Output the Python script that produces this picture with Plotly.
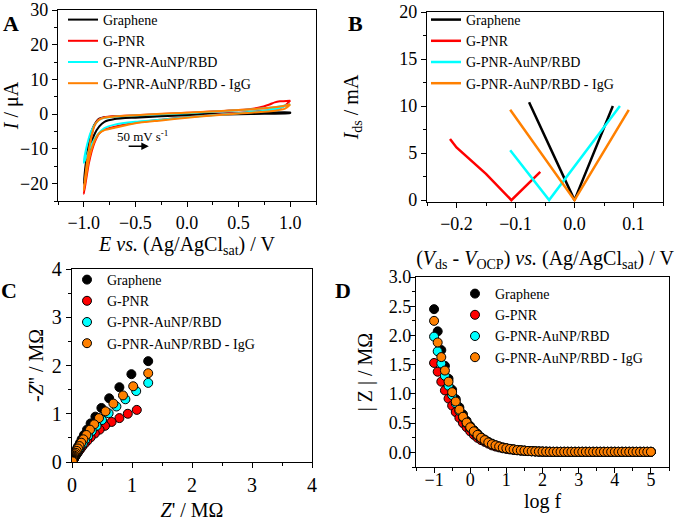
import plotly.graph_objects as go

# ---- data -------------------------------------------------------------
series = ["Graphene", "G-PNR", "G-PNR-AuNP/RBD", "G-PNR-AuNP/RBD - IgG"]
colors = ["#000000", "#FF0000", "#00FFFF", "#FF8000"]

# A: cyclic voltammetry (closed loop: -1 -> 1 -> -1)
cv_e = {
    "Graphene": [-1.0, -0.98, -0.95, -0.92, -0.88, -0.85, -0.8, -0.7, -0.5, -0.25, 0.0, 0.25, 0.5, 0.75, 1.0,
                 1.0, 0.75, 0.5, 0.25, 0.0, -0.25, -0.5, -0.7, -0.8, -0.85, -0.9, -0.95, -1.0],
    "G-PNR": [-1.0, -0.97, -0.93, -0.9, -0.86, -0.8, -0.7, -0.5, 0.0, 0.5, 0.7, 0.8, 0.85, 0.9, 1.0,
              1.0, 0.95, 0.9, 0.8, 0.7, 0.5, 0.25, 0.0, -0.25, -0.5, -0.7, -0.8, -0.85, -0.9, -0.95, -1.0],
    "G-PNR-AuNP/RBD": [-1.0, -0.97, -0.93, -0.88, -0.83, -0.75, -0.5, 0.0, 0.5, 0.75, 0.9, 1.0,
                       1.0, 0.9, 0.75, 0.5, 0.25, 0.0, -0.25, -0.5, -0.7, -0.8, -0.87, -0.93, -0.97, -1.0],
    "G-PNR-AuNP/RBD - IgG": [-1.0, -0.97, -0.93, -0.9, -0.86, -0.8, -0.7, -0.5, -0.25, 0.0, 0.25, 0.5, 0.75, 0.9, 1.0,
                             1.0, 0.95, 0.85, 0.75, 0.5, 0.25, 0.0, -0.25, -0.5, -0.7, -0.8, -0.85, -0.9, -0.95, -1.0],
}
cv_i = {
    "Graphene": [-20, -14, -8, -4.5, -2.2, -1.3, -0.9, -0.7, -0.5, -0.2, 0.0, 0.15, 0.3, 0.4, 0.5,
                 0.3, 0.1, 0.0, -0.15, -0.3, -0.6, -1.0, -1.4, -2.2, -3.5, -6, -11, -20],
    "G-PNR": [-23, -15, -7, -3.5, -1.6, -0.9, -0.6, -0.3, 0.4, 1.2, 1.9, 2.8, 3.4, 3.7, 3.9,
              3.9, 2.5, 1.8, 1.2, 0.9, 0.4, -0.2, -0.8, -1.6, -2.5, -3.6, -4.4, -5.5, -8.5, -14, -23],
    "G-PNR-AuNP/RBD": [-14, -9, -5, -2.5, -1.3, -0.9, -0.4, 0.3, 1.1, 1.7, 2.2, 2.9,
                       2.9, 1.8, 1.0, 0.3, -0.3, -0.9, -1.6, -2.2, -3.0, -4.0, -6, -9, -12, -14],
    "G-PNR-AuNP/RBD - IgG": [-22, -14, -7, -3.5, -1.8, -1.0, -0.7, -0.3, 0.1, 0.4, 0.8, 1.2, 1.7, 2.2, 2.8,
                             2.8, 1.6, 1.0, 0.7, 0.2, -0.4, -1.0, -1.8, -2.6, -3.9, -4.6, -5.5, -8, -13, -22],
}

# B: transfer curves
fet_v = {
    "Graphene": [-0.077, 0.0, 0.065],
    "G-PNR": [-0.211, -0.2, -0.15, -0.107, -0.058],
    "G-PNR-AuNP/RBD": [-0.109, -0.043, 0.077],
    "G-PNR-AuNP/RBD - IgG": [-0.109, 0.0, 0.092],
}
fet_i = {
    "Graphene": [10.4, 0.0, 10.0],
    "G-PNR": [6.5, 5.6, 2.8, 0.0, 3.0],
    "G-PNR-AuNP/RBD": [5.3, 0.0, 10.0],
    "G-PNR-AuNP/RBD - IgG": [9.6, 0.0, 9.6],
}

# C: Nyquist
z_re = {
    "Graphene": [1.27, 0.99, 0.79, 0.62, 0.49, 0.39, 0.31, 0.25, 0.20, 0.16, 0.13, 0.10, 0.08, 0.065,
                 0.05, 0.04, 0.035, 0.03, 0.025, 0.02, 0.018, 0.015, 0.013, 0.012, 0.011, 0.01],
    "G-PNR": [1.08, 0.93, 0.79, 0.66, 0.55, 0.46, 0.38, 0.31, 0.255, 0.21, 0.17, 0.14, 0.115, 0.095,
              0.075, 0.06, 0.05, 0.04, 0.032, 0.026, 0.02, 0.016, 0.013, 0.011, 0.01],
    "G-PNR-AuNP/RBD": [1.27, 1.07, 0.89, 0.74, 0.61, 0.50, 0.41, 0.33, 0.27, 0.22, 0.18, 0.14, 0.115,
                       0.09, 0.075, 0.06, 0.05, 0.04, 0.033, 0.027, 0.022, 0.018, 0.014, 0.012, 0.01],
    "G-PNR-AuNP/RBD - IgG": [1.27, 1.02, 0.85, 0.69, 0.56, 0.45, 0.37, 0.30, 0.24, 0.19, 0.155, 0.125,
                             0.10, 0.08, 0.065, 0.05, 0.04, 0.035, 0.03, 0.025, 0.02, 0.018, 0.015,
                             0.013, 0.012, 0.01],
}
z_im = {
    "Graphene": [2.09, 1.82, 1.55, 1.32, 1.12, 0.94, 0.80, 0.67, 0.56, 0.47, 0.39, 0.32, 0.27, 0.22,
                 0.18, 0.15, 0.12, 0.10, 0.08, 0.065, 0.05, 0.04, 0.03, 0.02, 0.015, 0.01],
    "G-PNR": [1.08, 1.00, 0.91, 0.83, 0.75, 0.67, 0.59, 0.51, 0.44, 0.38, 0.32, 0.27, 0.23, 0.19,
              0.16, 0.13, 0.11, 0.09, 0.07, 0.055, 0.045, 0.035, 0.025, 0.018, 0.012],
    "G-PNR-AuNP/RBD": [1.64, 1.47, 1.30, 1.15, 1.01, 0.87, 0.75, 0.64, 0.54, 0.46, 0.38, 0.32, 0.27,
                       0.22, 0.18, 0.15, 0.12, 0.10, 0.08, 0.065, 0.05, 0.04, 0.03, 0.02, 0.012],
    "G-PNR-AuNP/RBD - IgG": [1.84, 1.57, 1.38, 1.21, 1.05, 0.91, 0.78, 0.67, 0.56, 0.47, 0.40, 0.33,
                             0.28, 0.23, 0.19, 0.16, 0.13, 0.11, 0.09, 0.07, 0.06, 0.045, 0.035,
                             0.025, 0.018, 0.012],
}

# D: Bode modulus
log_f = [-1.0, -0.9, -0.8, -0.7, -0.6, -0.5, -0.4, -0.3, -0.2, -0.1, 0.0, 0.1, 0.2, 0.3, 0.4, 0.5,
         0.6, 0.7, 0.8, 0.9, 1.0, 1.1, 1.2, 1.3, 1.4, 1.5, 1.6, 1.7, 1.8, 1.9, 2.0, 2.1, 2.2, 2.3,
         2.4, 2.5, 2.6, 2.7, 2.8, 2.9, 3.0, 3.1, 3.2, 3.3, 3.4, 3.5, 3.6, 3.7, 3.8, 3.9, 4.0, 4.1,
         4.2, 4.3, 4.4, 4.5, 4.6, 4.7, 4.8, 4.9, 5.0]
z_mod = {
    "Graphene": [2.45, 2.07, 1.75, 1.48, 1.26, 1.07, 0.91, 0.77, 0.65, 0.54, 0.45, 0.38, 0.32, 0.26,
                 0.22, 0.18, 0.15, 0.12, 0.10, 0.085, 0.07, 0.06, 0.05, 0.042, 0.035, 0.03, 0.025,
                 0.021, 0.018, 0.015, 0.013, 0.012, 0.011, 0.01, 0.01, 0.01, 0.01, 0.01, 0.01, 0.01,
                 0.01, 0.01, 0.01, 0.01, 0.01, 0.01, 0.01, 0.01, 0.01, 0.01, 0.01, 0.01, 0.01, 0.01,
                 0.01, 0.01, 0.01, 0.01, 0.01, 0.01, 0.01],
    "G-PNR": [1.53, 1.38, 1.21, 1.06, 0.92, 0.80, 0.69, 0.59, 0.50, 0.43, 0.36, 0.30, 0.25, 0.21,
              0.18, 0.15, 0.12, 0.10, 0.085, 0.07, 0.06, 0.05, 0.042, 0.035, 0.03, 0.025, 0.021,
              0.018, 0.015, 0.013, 0.012, 0.011, 0.01, 0.01, 0.01, 0.01, 0.01, 0.01, 0.01, 0.01,
              0.01, 0.01, 0.01, 0.01, 0.01, 0.01, 0.01, 0.01, 0.01, 0.01, 0.01, 0.01, 0.01, 0.01,
              0.01, 0.01, 0.01, 0.01, 0.01, 0.01, 0.01],
    "G-PNR-AuNP/RBD": [1.98, 1.73, 1.52, 1.31, 1.14, 0.98, 0.84, 0.71, 0.60, 0.50, 0.42, 0.35, 0.29,
                       0.24, 0.20, 0.17, 0.14, 0.12, 0.10, 0.08, 0.07, 0.06, 0.05, 0.042, 0.035,
                       0.03, 0.025, 0.021, 0.018, 0.015, 0.013, 0.012, 0.011, 0.01, 0.01, 0.01,
                       0.01, 0.01, 0.01, 0.01, 0.01, 0.01, 0.01, 0.01, 0.01, 0.01, 0.01, 0.01, 0.01,
                       0.01, 0.01, 0.01, 0.01, 0.01, 0.01, 0.01, 0.01, 0.01, 0.01, 0.01, 0.01],
    "G-PNR-AuNP/RBD - IgG": [2.25, 1.88, 1.63, 1.40, 1.21, 1.03, 0.87, 0.73, 0.61, 0.51, 0.43, 0.36,
                             0.30, 0.25, 0.21, 0.17, 0.14, 0.12, 0.10, 0.08, 0.07, 0.06, 0.05,
                             0.04, 0.035, 0.03, 0.025, 0.02, 0.018, 0.015, 0.013, 0.012, 0.011,
                             0.01, 0.01, 0.01, 0.01, 0.01, 0.01, 0.01, 0.01, 0.01, 0.01, 0.01, 0.01,
                             0.01, 0.01, 0.01, 0.01, 0.01, 0.01, 0.01, 0.01, 0.01, 0.01, 0.01, 0.01,
                             0.01, 0.01, 0.01, 0.01],
}

# ---- figure -----------------------------------------------------------
W, H = 688, 521
FONT = "'Liberation Serif', 'Times New Roman', Times, serif"

fig = go.Figure()

for name, col in zip(series, colors):
    fig.add_trace(go.Scatter(x=cv_e[name], y=cv_i[name], name=name, mode="lines",
                             line=dict(color=col, width=2, shape="spline", smoothing=0.6),
                             xaxis="x", yaxis="y", legend="legend"))
for name, col in zip(series, colors):
    fig.add_trace(go.Scatter(x=fet_v[name], y=fet_i[name], name=name, mode="lines",
                             line=dict(color=col, width=2.5),
                             xaxis="x2", yaxis="y2", legend="legend2"))
for name, col in zip(series, colors):
    fig.add_trace(go.Scatter(x=z_re[name], y=z_im[name], name=name, mode="markers",
                             marker=dict(color=col, size=9, line=dict(color="black", width=1)),
                             xaxis="x3", yaxis="y3", legend="legend3"))
for name, col in zip(series, colors):
    fig.add_trace(go.Scatter(x=log_f, y=z_mod[name], name=name, mode="markers",
                             marker=dict(color=col, size=9, line=dict(color="black", width=1)),
                             xaxis="x4", yaxis="y4", legend="legend4"))


def px_dom(a, b):
    return [a / W, b / W]


def py_dom(top, bottom):
    return [1 - bottom / H, 1 - top / H]


def axis(dom, anchor, rng, dtick, minor, title, fmt=None, size=18, standoff=None, lblshift=0):
    t = dict(text=title, font=dict(family=FONT, size=20, color="black"))
    if standoff is not None:
        t["standoff"] = standoff
    d = dict(domain=dom, anchor=anchor, range=rng, dtick=dtick, tick0=0, automargin=False,
             showgrid=False, zeroline=False, showline=True, linecolor="black",
             linewidth=1.3, mirror=True, ticks="outside", ticklen=5, tickwidth=1.3,
             tickcolor="black", tickfont=dict(family=FONT, size=size, color="black"),
             minor=dict(dtick=minor, tick0=0, ticks="outside", ticklen=3, tickcolor="black"),
             title=t)
    if lblshift:
        d["ticklabelstandoff"] = lblshift
    if fmt:
        d["tickformat"] = fmt
    return d


def leg(x, y, size):
    return dict(x=x / W, y=1 - y / H, xanchor="left", yanchor="top", bgcolor="rgba(0,0,0,0)",
                font=dict(family=FONT, size=size, color="black"), tracegroupgap=0,
                itemwidth=30)


fig.update_layout(
    width=W, height=H,
    margin=dict(l=0, r=0, t=0, b=0),
    plot_bgcolor="white", paper_bgcolor="white",
    font=dict(family=FONT, color="black"),
    xaxis=axis(px_dom(58, 316), "y", [-1.25, 1.25], 0.5, 0.25,
               "<i>E</i> <i>vs.</i> (Ag/AgCl<sub>sat</sub>) / V", ".1f", standoff=2),
    yaxis=axis(py_dom(10, 201), "x", [-25, 30], 10, 5, "<i>I</i> / μA", standoff=10),
    xaxis2=axis(px_dom(427, 663), "y2", [-0.25, 0.15], 0.1, 0.05,
                "(<i>V</i><sub>ds</sub> - <i>V</i><sub>OCP</sub>) <i>vs.</i> (Ag/AgCl<sub>sat</sub>) / V",
                ".1f", standoff=18),
    yaxis2=axis(py_dom(12, 202), "x2", [-0.2, 20], 5, 2.5, "<i>I</i><sub>ds</sub> / mA", standoff=35),
    xaxis3=axis(px_dom(72, 312), "y3", [0, 4], 1, 0.5, "<i>Z</i>' / MΩ", size=20, standoff=10),
    yaxis3=axis(py_dom(269, 462), "x3", [0, 4], 1, 0.5, "-<i>Z</i>'' / MΩ", size=20, standoff=2),
    xaxis4=axis(px_dom(416, 669), "y4", [-1.5, 5.5], 1, 0.5, "log f", standoff=2, lblshift=-9),
    yaxis4=axis(py_dom(277, 467), "x4", [-0.25, 3.0], 0.5, 0.25, "| Z | / MΩ", ".1f",
                standoff=10, lblshift=-5),
    legend=leg(63, 4, 14),
    legend2=leg(426, 4, 14),
    legend3=leg(67, 264, 14),
    legend4=leg(455, 278, 14),
    showlegend=True,
)

for txt, x, y in [("A", 11, 23), ("B", 355, 23), ("C", 9, 290), ("D", 343, 290)]:
    fig.add_annotation(text="<b>%s</b>" % txt, x=x / W, y=1 - y / H, xref="paper", yref="paper",
                       xanchor="center", yanchor="middle", showarrow=False,
                       font=dict(family=FONT, size=22, color="black"))

fig.add_annotation(text="50 mV s<sup>-1</sup>", x=-0.43, y=-6.4, xref="x", yref="y",
                   showarrow=False, font=dict(family=FONT, size=13, color="black"))
fig.add_annotation(x=-0.37, y=-9.2, ax=-0.58, ay=-9.2, xref="x", yref="y", axref="x", ayref="y",
                   showarrow=True, arrowhead=2, arrowsize=1, arrowwidth=1.5, arrowcolor="black", text="")

fig.write_html("out.html", config={"displayModeBar": False},
               post_script="document.body.style.margin='0';")
